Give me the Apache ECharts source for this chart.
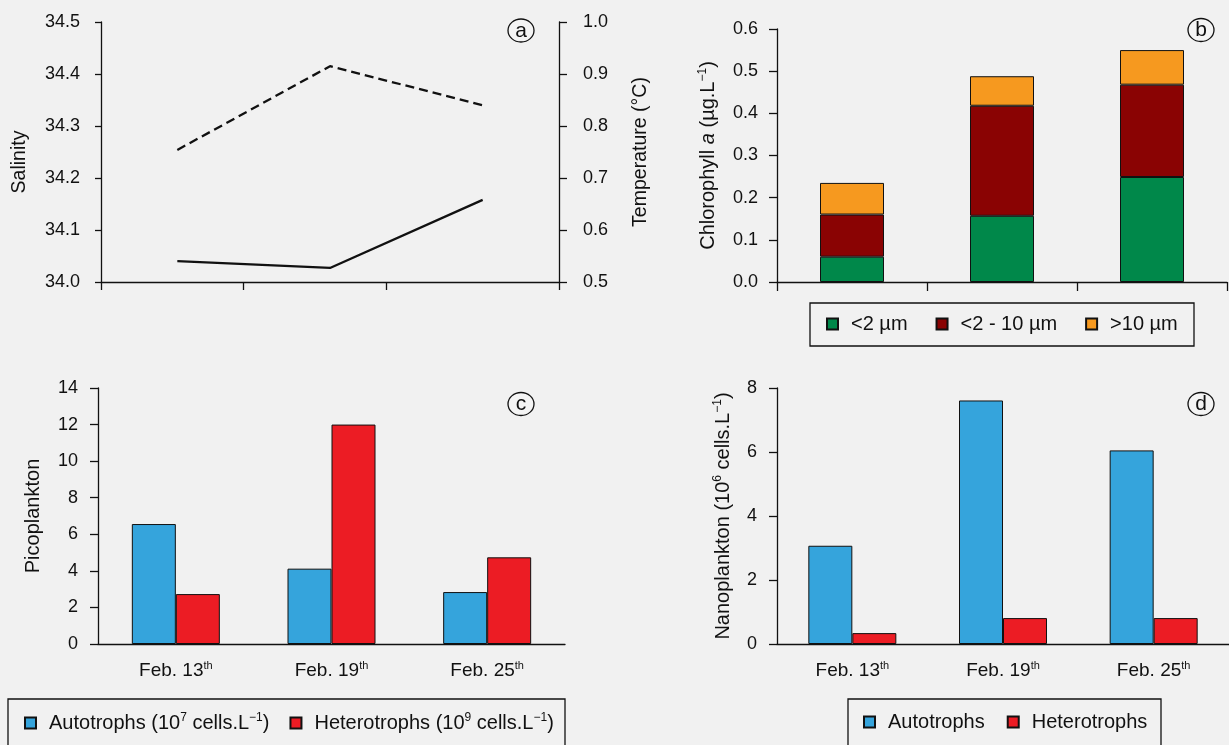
<!DOCTYPE html>
<html>
<head>
<meta charset="utf-8">
<script src="https://cdn.jsdelivr.net/npm/echarts@6/dist/echarts.min.js"></script>
<style>
html, body { margin: 0; padding: 0; background: #f1f1f1; }
#chart { width: 1229px; height: 745px; }
</style>
</head>
<body>
<div id="chart"></div>
<script>
// ---------- data ----------
const dates = ['Feb. 13', 'Feb. 19', 'Feb. 25'];
const dateSuffix = ['th', 'th', 'th'];

// panel a
const salinity = [34.04, 34.027, 34.158];
const temperature = [0.754, 0.915, 0.84];
const salinityTicks = { min: 34.0, max: 34.5, step: 0.1 };
const temperatureTicks = { min: 0.5, max: 1.0, step: 0.1 };

// panel b (chlorophyll a, µg.L-1)
const chlNames = ['<2 µm', '<2 - 10 µm', '>10 µm'];
const chlSmall = [0.06, 0.157, 0.249];
const chlMid = [0.10, 0.261, 0.219];
const chlLarge = [0.075, 0.07, 0.082];
const chlTicks = { min: 0, max: 0.6, step: 0.1 };

// panel c (picoplankton)
const picoNames = ['Autotrophs (10⁷ cells.L⁻¹)', 'Heterotrophs (10⁹ cells.L⁻¹)'];
const picoAuto = [6.56, 4.12, 2.84];
const picoHetero = [2.73, 12.0, 4.74];
const picoTicks = { min: 0, max: 14, step: 2 };

// panel d (nanoplankton)
const nanoNames = ['Autotrophs', 'Heterotrophs'];
const nanoAuto = [3.07, 7.61, 6.05];
const nanoHetero = [0.34, 0.81, 0.81];
const nanoTicks = { min: 0, max: 8, step: 2 };

const panelLetters = ['a', 'b', 'c', 'd'];

// ---------- styles ----------
const FONT = '"Liberation Sans", Arial, Helvetica, sans-serif';
const INK = '#111';
const C_GREEN = '#00884a', C_DRED = '#8a0303', C_ORANGE = '#f6991f';
const C_BLUE = '#35a4dc', C_RED = '#ec1c24';
const TICK_FS = 18, NAME_FS = 20, LEG_FS = 20;

// convert unicode superscripts into rich-text tokens
const SUPMAP = {'⁰':'0','¹':'1','²':'2','³':'3','⁴':'4','⁵':'5','⁶':'6','⁷':'7','⁸':'8','⁹':'9','⁻':'−'};
function supRich(text) {
  let out = '', buf = '', sup = false;
  const flush = () => { if (buf) out += '{' + (sup ? 's' : 'n') + '|' + buf + '}'; buf = ''; };
  for (const ch of text) {
    const isSup = ch in SUPMAP;
    if (isSup !== sup) { flush(); sup = isSup; }
    buf += isSup ? SUPMAP[ch] : ch;
  }
  flush();
  return out;
}

const axisLineStyle = { lineStyle: { color: INK, width: 1.3 } };
const tickLabel = { color: INK, fontSize: TICK_FS, fontFamily: FONT };

function nameStyle(fs, padding) {
  return {
    color: INK, fontSize: fs, fontFamily: FONT, padding: padding || 0,
    rich: {
      n: { fontSize: fs, fontFamily: FONT, color: INK, lineHeight: 22 },
      i: { fontSize: fs, fontFamily: FONT, color: INK, fontStyle: 'italic', lineHeight: 22 },
      s: { fontSize: 12, fontFamily: FONT, color: INK, lineHeight: 11, verticalAlign: 'top' }
    }
  };
}

function valueY(gridIndex, t, extra) {
  return Object.assign({
    type: 'value', gridIndex, min: t.min, max: t.max, interval: t.step,
    axisLine: Object.assign({ show: true, onZero: false }, axisLineStyle),
    axisTick: { show: true, length: 7, lineStyle: { color: INK, width: 1.3 } },
    splitLine: { show: false },
    nameLocation: 'middle',
    nameRotate: 90,
    nameTextStyle: nameStyle(NAME_FS)
  }, extra);
}

const dateLabel = {
  color: INK, fontFamily: FONT, margin: 16,
  formatter: (v, i) => '{d|' + v + '}{s|' + dateSuffix[i] + '}',
  rich: {
    d: { fontSize: 19, fontFamily: FONT, color: INK, lineHeight: 21 },
    s: { fontSize: 11, fontFamily: FONT, color: INK, lineHeight: 10, verticalAlign: 'top' }
  }
};

const legendCommon = {
  orient: 'horizontal', padding: 0, icon: 'rect', itemWidth: 11, itemHeight: 11,
  selectedMode: false,
  formatter: name => supRich(name),
  textStyle: {
    color: INK, fontSize: LEG_FS, fontFamily: FONT, padding: [0, 0, 0, 8],
    rich: {
      n: { fontSize: LEG_FS, fontFamily: FONT, color: INK, lineHeight: 22 },
      s: { fontSize: 12, fontFamily: FONT, color: INK, lineHeight: 11, verticalAlign: 'top' }
    }
  }
};

const barBorder = { borderColor: INK, borderWidth: 1 };

function circleLabel(cx, cy, letter) {
  return [
    { type: 'ellipse', shape: { cx, cy, rx: 13, ry: 11.5 }, style: { fill: 'rgba(255,255,255,0.25)', stroke: INK, lineWidth: 1.3 }, z: 10 },
    { type: 'text', x: cx, y: cy + 0.5, z: 11, style: { text: letter, fontSize: 21, fontFamily: FONT, fill: INK, align: 'center', verticalAlign: 'middle' } }
  ];
}
function boxRect(x, y, w, h) {
  return { type: 'rect', shape: { x, y, width: w, height: h }, style: { fill: 'none', stroke: INK, lineWidth: 1.3 }, z: 5 };
}

const chart = echarts.init(document.getElementById('chart'), null, { renderer: 'canvas' });

const option = {
  animation: false,
  backgroundColor: '#f1f1f1',
  grid: [
    { left: 101, top: 22, width: 458, height: 260 },
    { left: 777, top: 29, width: 450, height: 253 },
    { left: 98, top: 388, width: 467, height: 256 },
    { left: 777, top: 388, width: 468, height: 256 }
  ],
  xAxis: [
    {
      type: 'value', gridIndex: 0, min: -0.5, max: 2.5,
      axisLine: Object.assign({ show: true, onZero: false }, axisLineStyle),
      axisTick: { show: true, length: 8, customValues: [-0.5, 0.43, 1.37, 2.5], lineStyle: { color: INK, width: 1.3 } },
      axisLabel: { show: false }, splitLine: { show: false }
    },
    {
      type: 'category', gridIndex: 1, data: dates,
      axisLine: Object.assign({ show: true }, axisLineStyle),
      axisTick: { show: true, length: 9, lineStyle: { color: INK, width: 1.3 } },
      axisLabel: { show: false }
    },
    {
      type: 'category', gridIndex: 2, data: dates,
      axisLine: Object.assign({ show: true }, axisLineStyle),
      axisTick: { show: false }, axisLabel: dateLabel
    },
    {
      type: 'category', gridIndex: 3, data: dates,
      axisLine: Object.assign({ show: true }, axisLineStyle),
      axisTick: { show: false }, axisLabel: dateLabel
    }
  ],
  yAxis: [
    valueY(0, salinityTicks, {
      position: 'left', name: 'Salinity', nameGap: 71,
      nameTextStyle: nameStyle(19.5, [0, 20, 0, 0]),
      axisTick: { show: true, length: 6, lineStyle: { color: INK, width: 1.3 } },
      axisLabel: Object.assign({ margin: 21, formatter: v => v.toFixed(1) }, tickLabel)
    }),
    valueY(0, temperatureTicks, {
      position: 'right', name: 'Temperature (°C)', nameGap: 72,
      nameTextStyle: nameStyle(19.5),
      axisTick: { show: true, length: 8, lineStyle: { color: INK, width: 1.3 } },
      axisLabel: Object.assign({ margin: 24, formatter: v => v.toFixed(1) }, tickLabel)
    }),
    valueY(1, chlTicks, {
      name: '{n|Chlorophyll }{i|a}{n| (µg.L}{s|−1}{n|)}', nameGap: 58,
      axisTick: { show: true, length: 8, lineStyle: { color: INK, width: 1.3 } },
      axisLabel: Object.assign({ margin: 19, formatter: v => v.toFixed(1) }, tickLabel)
    }),
    valueY(2, picoTicks, {
      name: 'Picoplankton', nameGap: 55,
      axisTick: { show: true, length: 8, lineStyle: { color: INK, width: 1.3 } },
      axisLabel: Object.assign({ margin: 20 }, tickLabel)
    }),
    valueY(3, nanoTicks, {
      name: supRich('Nanoplankton (10⁶ cells.L⁻¹)'), nameGap: 43,
      axisTick: { show: true, length: 8, lineStyle: { color: INK, width: 1.3 } },
      axisLabel: Object.assign({ margin: 20 }, tickLabel)
    })
  ],
  legend: [
    Object.assign({}, legendCommon, { data: chlNames, left: 826, top: 314, itemGap: 28 }),
    Object.assign({}, legendCommon, { data: picoNames, left: 24, top: 712, itemGap: 20 }),
    Object.assign({}, legendCommon, { data: nanoNames, left: 863, top: 712, itemGap: 22 })
  ],
  graphic: [].concat(
    circleLabel(521, 30.5, panelLetters[0]),
    circleLabel(1201, 30, panelLetters[1]),
    circleLabel(521, 404, panelLetters[2]),
    circleLabel(1201, 404, panelLetters[3]),
    [boxRect(810, 303, 384, 43), boxRect(8, 699, 557, 80), boxRect(848, 699, 313, 80)]
  ),
  series: [
    {
      name: 'Salinity', type: 'line', xAxisIndex: 0, yAxisIndex: 0,
      data: salinity.map((v, i) => [i, v]), symbol: 'none',
      lineStyle: { color: INK, width: 2.3, type: 'solid' }
    },
    {
      name: 'Temperature', type: 'line', xAxisIndex: 0, yAxisIndex: 1,
      data: temperature.map((v, i) => [i, v]), symbol: 'none',
      lineStyle: { color: INK, width: 2.3, type: [9, 5] }
    },
    { name: chlNames[0], type: 'bar', stack: 'chl', xAxisIndex: 1, yAxisIndex: 2, data: chlSmall, barWidth: 64, itemStyle: Object.assign({ color: C_GREEN }, barBorder) },
    { name: chlNames[1], type: 'bar', stack: 'chl', xAxisIndex: 1, yAxisIndex: 2, data: chlMid, barWidth: 64, itemStyle: Object.assign({ color: C_DRED }, barBorder) },
    { name: chlNames[2], type: 'bar', stack: 'chl', xAxisIndex: 1, yAxisIndex: 2, data: chlLarge, barWidth: 64, itemStyle: Object.assign({ color: C_ORANGE }, barBorder) },
    { name: picoNames[0], type: 'bar', xAxisIndex: 2, yAxisIndex: 3, data: picoAuto, barWidth: 44, barGap: '0%', itemStyle: Object.assign({ color: C_BLUE }, barBorder) },
    { name: picoNames[1], type: 'bar', xAxisIndex: 2, yAxisIndex: 3, data: picoHetero, barWidth: 44, barGap: '0%', itemStyle: Object.assign({ color: C_RED }, barBorder) },
    { name: nanoNames[0], type: 'bar', xAxisIndex: 3, yAxisIndex: 4, data: nanoAuto, barWidth: 44, barGap: '0%', itemStyle: Object.assign({ color: C_BLUE }, barBorder) },
    { name: nanoNames[1], type: 'bar', xAxisIndex: 3, yAxisIndex: 4, data: nanoHetero, barWidth: 44, barGap: '0%', itemStyle: Object.assign({ color: C_RED }, barBorder) }
  ]
};
chart.setOption(option);
</script>
</body>
</html>
